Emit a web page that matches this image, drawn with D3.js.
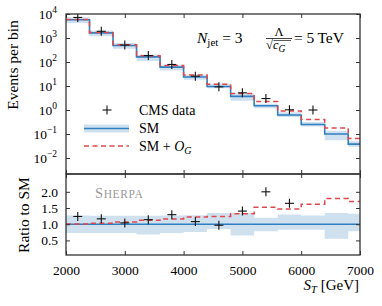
<!DOCTYPE html>
<html><head><meta charset="utf-8">
<script src="https://cdn.jsdelivr.net/npm/d3@7"></script>
<style>body{margin:0;background:#fff} svg text{font-family:'Liberation Serif',serif !important;fill:#000}</style>
</head><body><svg id="c" width="382" height="306"></svg>
<script>
// ---- data ----
const binEdges = [2000,2400,2800,3200,3600,4000,4400,4800,5200,5600,6000,6400,6800,7200];
const smValues = [5800,1630,490,163,61,23.7,9.5,3.7,1.5,0.62,0.25,0.10,0.038];
const ogRatio  = [1.01,1.03,1.07,1.12,1.16,1.22,1.24,1.32,1.52,1.47,1.62,1.79,1.70];
const bandLo   = [0.73,0.73,0.73,0.68,0.73,0.76,0.85,0.65,0.78,0.83,0.83,0.55,0.78];
const bandHi   = [1.27,1.26,1.26,1.26,1.27,1.28,1.35,1.35,1.20,1.30,1.27,1.35,1.32];
const dataST   = [2200,2600,3000,3400,3800,4200,4600,5000,5400,5800,6200];
const dataValues = [7190,1900,510,186,79,25.6,9.2,5.2,3.0,1.02,1.0];
const xTicks = [2000,3000,4000,5000,6000,7000];
const yTopExp = [4,3,2,1,0,-1,-2];
const yRatioTicks = [0.5,1.0,1.5,2.0];

const FONT = "Liberation Serif";
const BLUE = "#2f7fc1", BAND = "#cfe1ef", RED = "#e0474c", FRAME = "#333";
const L=66,R=360,T=14,M=174,B=255;
const svg = d3.select("#c").attr("font-family", FONT);
const x = d3.scaleLinear().domain([2000,7000]).range([L,R]);
const yTop = d3.scaleLog().domain([Math.pow(10,-8/3),1e4]).range([M,T]);
const yRat = d3.scaleLinear().domain([0.05,2.55]).range([B,M]);

const defs = svg.append("defs");
defs.append("clipPath").attr("id","cpTop").append("rect").attr("x",L).attr("y",T).attr("width",R-L).attr("height",M-T);
defs.append("clipPath").attr("id","cpRat").append("rect").attr("x",L).attr("y",M).attr("width",R-L).attr("height",B-M);

const n = smValues.length;
const stepPts = () => binEdges.map((e,i)=>({x:e, i:Math.min(i,n-1)}));

// ---- top panel ----
const gT = svg.append("g").attr("clip-path","url(#cpTop)");
gT.append("path").datum(stepPts())
  .attr("d", d3.area().curve(d3.curveStepAfter).x(d=>x(d.x))
    .y0(d=>yTop(smValues[d.i]*bandLo[d.i])).y1(d=>yTop(smValues[d.i]*bandHi[d.i])))
  .attr("fill",BAND);
gT.append("path").datum(stepPts())
  .attr("d", d3.line().curve(d3.curveStepAfter).x(d=>x(d.x)).y(d=>yTop(smValues[d.i])))
  .attr("fill","none").attr("stroke",BLUE).attr("stroke-width",1.6);
gT.append("path").datum(stepPts())
  .attr("d", d3.line().curve(d3.curveStepAfter).x(d=>x(d.x)).y(d=>yTop(smValues[d.i]*ogRatio[d.i])))
  .attr("fill","none").attr("stroke",RED).attr("stroke-width",1.5).attr("stroke-dasharray","5,3.5");
const plus = (g, cx, cy) => {
  g.append("line").attr("x1",cx-4.5).attr("x2",cx+4.5).attr("y1",cy).attr("y2",cy).attr("stroke","#111").attr("stroke-width",1.1);
  g.append("line").attr("x1",cx).attr("x2",cx).attr("y1",cy-4.5).attr("y2",cy+4.5).attr("stroke","#111").attr("stroke-width",1.1);
};
dataST.forEach((s,k)=>plus(gT, x(s), yTop(dataValues[k])));

// ---- ratio panel ----
const gR = svg.append("g").attr("clip-path","url(#cpRat)");
gR.append("path").datum(stepPts())
  .attr("d", d3.area().curve(d3.curveStepAfter).x(d=>x(d.x)).y0(d=>yRat(bandLo[d.i])).y1(d=>yRat(bandHi[d.i])))
  .attr("fill",BAND);
gR.append("path").datum(stepPts())
  .attr("d", d3.line().curve(d3.curveStepAfter).x(d=>x(d.x)).y(d=>yRat(1)))
  .attr("fill","none").attr("stroke",BLUE).attr("stroke-width",1.6);
gR.append("path").datum(stepPts())
  .attr("d", d3.line().curve(d3.curveStepAfter).x(d=>x(d.x)).y(d=>yRat(ogRatio[d.i])))
  .attr("fill","none").attr("stroke",RED).attr("stroke-width",1.5).attr("stroke-dasharray","5,3.5");
dataST.forEach((s,k)=>{
  const bi = binEdges.findIndex((e,i)=> s>=e && s<binEdges[i+1]);
  const r = dataValues[k]/smValues[bi];
  if (r < 2.55) plus(gR, x(s), yRat(r));
});

// ---- axes (inward ticks) ----
const tickStyle = g => { g.select(".domain").remove(); g.selectAll("line").attr("stroke",FRAME); g.attr("font-family",FONT); };
const ax = (gen, tx, ty) => svg.append("g").attr("transform",`translate(${tx},${ty})`).call(gen).call(tickStyle);
ax(d3.axisBottom(x).tickValues(xTicks).tickSize(-4).tickFormat(""), 0, M);
ax(d3.axisTop(x).tickValues(xTicks).tickSize(-4).tickFormat(""), 0, T);
ax(d3.axisLeft(yTop).tickValues(yTopExp.map(e=>Math.pow(10,e))).tickSize(-4).tickFormat(""), L, 0);
ax(d3.axisRight(yTop).tickValues(yTopExp.map(e=>Math.pow(10,e))).tickSize(-4).tickFormat(""), R, 0);
ax(d3.axisTop(x).tickValues(xTicks).tickSize(-4).tickFormat(""), 0, M);
ax(d3.axisRight(yRat).tickValues(yRatioTicks).tickSize(-4).tickFormat(""), R, 0);
const axL = ax(d3.axisLeft(yRat).tickValues(yRatioTicks).tickSize(-4).tickPadding(8).tickFormat(d3.format(".1f")), L, 0);
axL.selectAll("text").attr("font-size",13.5).attr("fill","#000").attr("x",-8);
const axB = ax(d3.axisBottom(x).tickValues(xTicks).tickSize(-4).tickPadding(10).tickFormat(d3.format("d")), 0, B);
axB.selectAll("text").attr("font-size",13.5).attr("fill","#000");

// top y labels 10^k
yTopExp.forEach(e=>{
  const t = svg.append("text").attr("x",57).attr("y",yTop(Math.pow(10,e))+5).attr("text-anchor","end").attr("font-size",13.5);
  t.append("tspan").text("10");
  t.append("tspan").attr("dy",-6).attr("font-size",9.5).text(e<0? "\u2212"+(-e) : String(e));
});

// frames
svg.append("rect").attr("x",L).attr("y",T).attr("width",R-L).attr("height",M-T).attr("fill","none").attr("stroke",FRAME).attr("stroke-width",1.3);
svg.append("rect").attr("x",L).attr("y",M).attr("width",R-L).attr("height",B-M).attr("fill","none").attr("stroke",FRAME).attr("stroke-width",1.3);

// axis labels
svg.append("text").attr("transform","translate(18,65) rotate(-90)").attr("text-anchor","middle").attr("font-size",15.5).text("Events per bin");
svg.append("text").attr("transform","translate(29,215) rotate(-90)").attr("text-anchor","middle").attr("font-size",15.5).text("Ratio to SM");
const xl = svg.append("text").attr("x",359).attr("y",290).attr("text-anchor","end").attr("font-size",15);
xl.append("tspan").attr("font-style","italic").text("S");
xl.append("tspan").attr("dy",3).attr("font-size",10.5).attr("font-style","italic").text("T");
xl.append("tspan").attr("dy",-3).text(" [GeV]");

// annotation
const a1 = svg.append("text").attr("x",197).attr("y",42.5).attr("font-size",15.5);
a1.append("tspan").attr("font-style","italic").text("N");
a1.append("tspan").attr("dy",3.5).attr("font-size",11).text("jet");
a1.append("tspan").attr("dy",-3.5).text(" = 3");
svg.append("text").attr("x",279).attr("y",36).attr("text-anchor","middle").attr("font-size",12.5).text("Λ");
svg.append("line").attr("x1",266).attr("x2",292).attr("y1",38.5).attr("y2",38.5).attr("stroke","#111").attr("stroke-width",0.8);
const a2 = svg.append("text").attr("x",266).attr("y",49).attr("font-size",12.5);
a2.append("tspan").text("√");
a2.append("tspan").attr("font-style","italic").text("c");
a2.append("tspan").attr("dy",2.5).attr("font-size",9.5).attr("font-style","italic").text("G");
svg.append("line").attr("x1",273.5).attr("x2",291).attr("y1",40.5).attr("y2",40.5).attr("stroke","#111").attr("stroke-width",0.7);
svg.append("text").attr("x",294).attr("y",42.5).attr("font-size",15.5).text("= 5\u2009TeV");

// SHERPA
const sh = svg.append("text").attr("x",95).attr("y",198).attr("font-size",14.5).style("fill","#999").attr("letter-spacing",0.6);
sh.append("tspan").text("S");
sh.append("tspan").attr("font-size",11.5).text("HERPA");

// legend
plus(svg, 107, 110);
svg.append("text").attr("x",139).attr("y",114.5).attr("font-size",14).text("CMS data");
svg.append("rect").attr("x",84).attr("y",124.5).attr("width",45).attr("height",8).attr("fill",BAND);
svg.append("line").attr("x1",84).attr("x2",129).attr("y1",128.5).attr("y2",128.5).attr("stroke",BLUE).attr("stroke-width",1.6);
svg.append("text").attr("x",139).attr("y",133).attr("font-size",14).text("SM");
svg.append("line").attr("x1",84).attr("x2",129).attr("y1",146).attr("y2",146).attr("stroke",RED).attr("stroke-width",1.5).attr("stroke-dasharray","5,3.5");
const lg = svg.append("text").attr("x",139).attr("y",151).attr("font-size",14);
lg.append("tspan").text("SM + ");
lg.append("tspan").attr("font-style","italic").text("O");
lg.append("tspan").attr("dy",3).attr("font-size",10).attr("font-style","italic").text("G");
</script></body></html>
